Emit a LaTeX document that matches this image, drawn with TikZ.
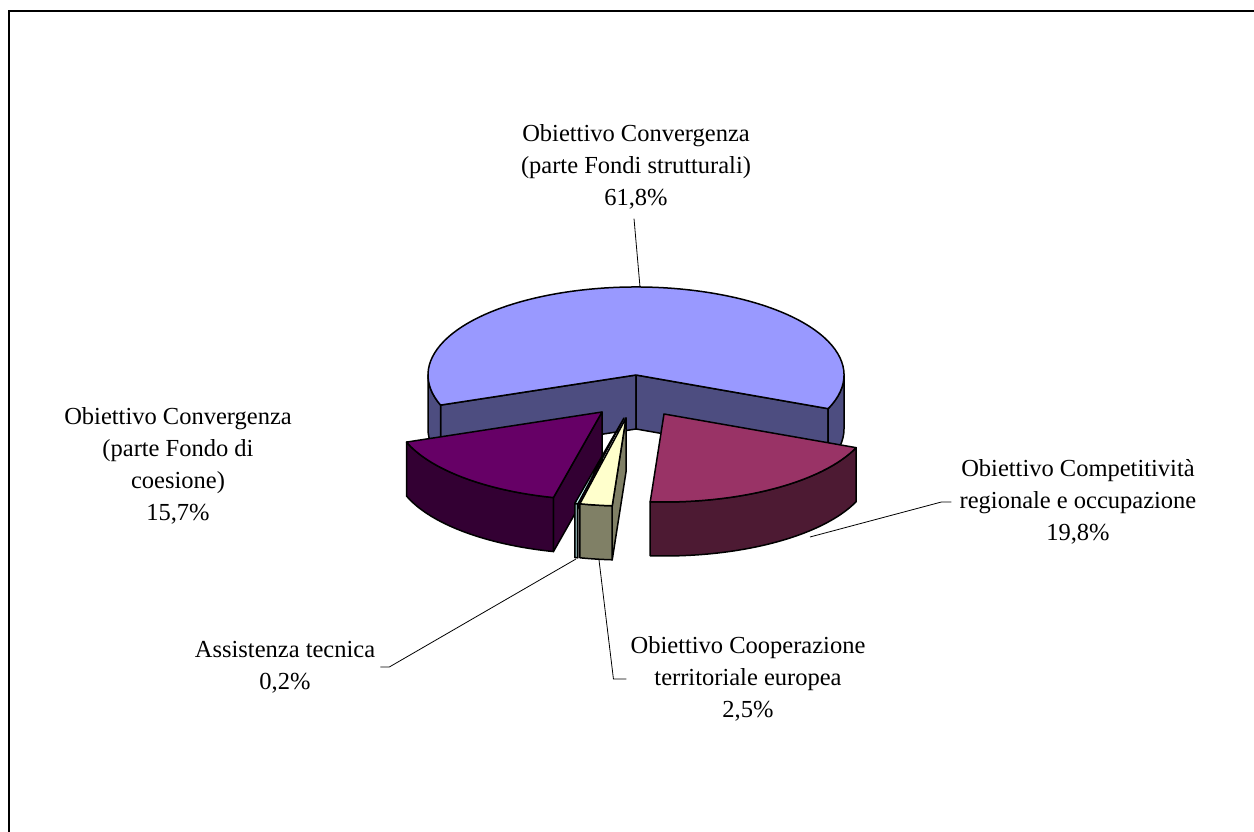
\documentclass[tikz,border=0pt]{standalone}
\usepackage{fontspec}
\setmainfont{Liberation Serif}
\usetikzlibrary{calc}
\definecolor{bigtop}{HTML}{9999FF}
\definecolor{bigside}{HTML}{4D4D80}
\definecolor{ptop}{HTML}{660066}
\definecolor{pside}{HTML}{330033}
\definecolor{rtop}{HTML}{993366}
\definecolor{rside}{HTML}{4D1A33}
\definecolor{ytop}{HTML}{FFFFCC}
\definecolor{yside}{HTML}{808066}
\definecolor{ttop}{HTML}{CCFFFF}
\definecolor{tside}{HTML}{7FA0A0}
\def\pierx{208}\def\piery{88}\def\piehh{54}
\newcommand\pieouter[4]{%
  \filldraw[edge,fill=#4] ($(#1)+(#2:\pierx pt and \piery pt)$)
    arc[start angle=#2,end angle=#3,x radius=\pierx pt,y radius=\piery pt]
    -- ++(0,-\piehh)
    arc[start angle=#3,end angle=#2,x radius=\pierx pt,y radius=\piery pt] -- cycle;}
\newcommand\pieradial[3]{%
  \filldraw[edge,fill=#3] (#1) -- ($(#1)+(#2:\pierx pt and \piery pt)$)
    -- ++(0,-\piehh) -- ($(#1)+(0,-\piehh)$) -- cycle;}
\newcommand\pietop[4]{%
  \filldraw[edge,fill=#4] (#1) -- ($(#1)+(#2:\pierx pt and \piery pt)$)
    arc[start angle=#2,end angle=#3,x radius=\pierx pt,y radius=\piery pt] -- cycle;}
\begin{document}
\begin{tikzpicture}[x=1pt,y=1pt,
  edge/.style={draw=black,line width=1.5pt,line join=round},
  lbl/.style={align=center,font=\fontsize{24.5}{32}\selectfont,inner sep=0pt},
  leader/.style={draw=black,line width=0.8pt}]
\useasboundingbox (0,0) rectangle (1254,832);
\draw[line width=2pt] (9,0) -- (9,820.5) -- (1254,820.5);

\coordinate (C) at (636,457);
\coordinate (Cp) at (602,420);
\coordinate (Cr) at (664,418);
\coordinate (Cy) at (626,414);
\coordinate (Ct) at (624,414);

% big slice
\pieradial{C}{200}{bigside}
\pieradial{C}{-22.5}{bigside}
\pieouter{C}{180}{200}{bigside}
\pieouter{C}{-22.5}{0}{bigside}
\pietop{C}{-22.5}{200}{bigtop}
% purple slice
\pieradial{Cp}{256.5}{pside}
\pieouter{Cp}{200}{256.5}{pside}
\pietop{Cp}{200}{256.5}{ptop}
% red slice
\pieouter{Cr}{266.2}{337.5}{rside}
\pietop{Cr}{266.2}{337.5}{rtop}
% teal slice
\pieouter{Ct}{256.3}{257.2}{tside}
\pietop{Ct}{256.3}{257.2}{ttop}
% yellow slice
\pieradial{Cy}{266.2}{yside}
\pieouter{Cy}{257.2}{266.2}{yside}
\pietop{Cy}{257.2}{266.2}{ytop}

\coordinate (aTop) at (640,545);
\coordinate (aRed) at (810,295);
\coordinate (aTeal) at (576,273);
\coordinate (aYel) at (599,272);

\node[lbl] (lTop) at (636,665) {Obiettivo Convergenza\\(parte Fondi strutturali)\\61,8\%};
\node[lbl] (lPur) at (178,366) {Obiettivo Convergenza\\(parte Fondo di\\coesione)\\15,7\%};
\node[lbl] (lRed) at (1078,330) {Obiettivo Competitività\\regionale e occupazione\\19,8\%};
\node[lbl] (lTec) at (285,165) {Assistenza tecnica\\0,2\%};
\node[lbl] (lCoop) at (748,153) {Obiettivo Cooperazione\\territoriale europea\\2,5\%};

\draw[leader] ([shift={(-2,-9)}]lTop.south) -- (aTop);
\draw[leader] ([xshift=-8]lRed.west) -- ++(-10,0) -- (aRed);
\draw[leader] ([xshift=5]lTec.east) -- ++(9,0) -- (aTeal);
\draw[leader] ([xshift=-4]lCoop.west) -- ++(-13,0) -- (aYel);
\end{tikzpicture}
\end{document}
